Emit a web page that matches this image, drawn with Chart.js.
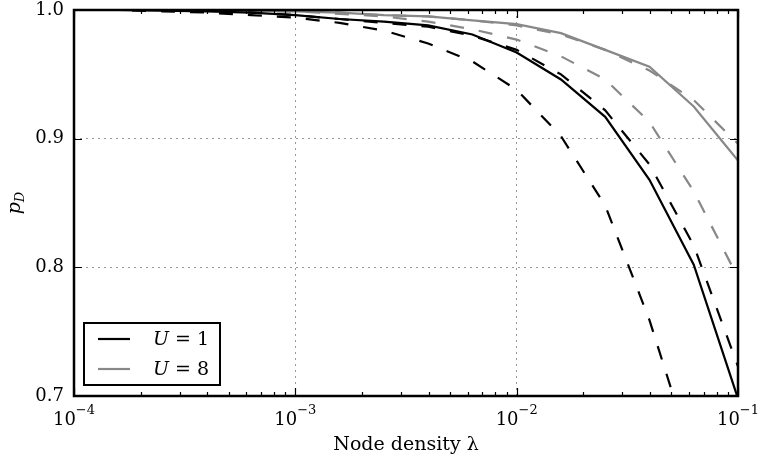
<!DOCTYPE html>
<html>
<head>
<meta charset="utf-8">
<script src="https://cdn.jsdelivr.net/npm/chart.js@4.4.0/dist/chart.umd.min.js"></script>
<style>
  html, body { margin: 0; padding: 0; background: #fff; }
  #wrap { width: 767px; height: 463px; position: relative; }
</style>
</head>
<body>
<div id="wrap"><canvas id="pdChart"></canvas></div>
<script>
// node density lambda, 0.2 decade steps
const lambda = [1e-4, 1.585e-4, 2.512e-4, 3.981e-4, 6.310e-4, 1e-3, 1.585e-3, 2.512e-3,
                3.981e-3, 6.310e-3, 1e-2, 1.585e-2, 2.512e-2, 3.981e-2, 6.310e-2, 1e-1];

// U = 1 (black)
const u1Solid   = [1.000, 1.000, 0.9995, 0.999, 0.998, 0.996, 0.993, 0.991, 0.988, 0.981, 0.967, 0.946, 0.917, 0.868, 0.802, 0.698];
const u1DashHi  = [1.000, 1.000, 0.9995, 0.999, 0.998, 0.996, 0.993, 0.990, 0.987, 0.980, 0.969, 0.950, 0.922, 0.880, 0.817, 0.723];
const u1DashLo  = [1.000, 1.000, 0.999, 0.998, 0.996, 0.994, 0.990, 0.984, 0.974, 0.960, 0.938, 0.902, 0.848, 0.759, 0.650, null];

// U = 8 (gray)
const u8Solid   = [1.000, 1.000, 1.000, 1.000, 0.9995, 0.999, 0.998, 0.996, 0.995, 0.992, 0.989, 0.982, 0.969, 0.956, 0.925, 0.883];
const u8DashHi  = [1.000, 1.000, 1.000, 1.000, 0.9995, 0.999, 0.998, 0.996, 0.995, 0.992, 0.988, 0.981, 0.969, 0.953, 0.930, 0.896];
const u8DashLo  = [1.000, 1.000, 1.000, 1.000, 0.999, 0.999, 0.997, 0.995, 0.991, 0.985, 0.977, 0.964, 0.946, 0.913, 0.859, 0.792];

const xTicks = [1e-4, 1e-3, 1e-2, 1e-1];
const yTicks = [0.7, 0.8, 0.9, 1.0];
const legendLabels = ['U = 1', 'U = 8'];

const BLACK = '#000000';
const GRAY = '#888888';
const SERIF = "'DejaVu Serif', serif";

function pts(ys) {
    return lambda.map((x, i) => ({ x: x, y: ys[i] }));
}

function mkSet(label, ys, color, dashed) {
    return {
        label: label,
        data: pts(ys),
        borderColor: color,
        backgroundColor: color,
        borderWidth: 2.2,
        borderDash: dashed ? [14, 15] : [],
        pointRadius: 0,
        tension: 0,
        fill: false
    };
}

// frame, inward ticks, x tick labels, y title and legend
const decorations = {
    id: 'decorations',
    afterDraw(chart) {
        const { ctx, chartArea: { left, right, top, bottom }, scales: { x, y } } = chart;
        ctx.save();
        ctx.strokeStyle = '#000';
        ctx.lineWidth = 1.2;
        ctx.setLineDash([]);
        ctx.beginPath();
        for (let d = -4; d <= -1; d++) {
            for (let m = 1; m <= 9; m++) {
                const v = m * Math.pow(10, d);
                if (v > 0.1 + 1e-12) break;
                const px = Math.round(x.getPixelForValue(v)) + 0.5;
                const len = m === 1 ? 8 : 4;
                ctx.moveTo(px, bottom); ctx.lineTo(px, bottom - len);
                ctx.moveTo(px, top); ctx.lineTo(px, top + len);
            }
        }
        yTicks.forEach(v => {
            const py = Math.round(y.getPixelForValue(v)) + 0.5;
            ctx.moveTo(left, py); ctx.lineTo(left + 8, py);
            ctx.moveTo(right, py); ctx.lineTo(right - 8, py);
        });
        ctx.stroke();

        ctx.lineWidth = 2.5;
        ctx.strokeRect(left, top, right - left, bottom - top);

        // x tick labels 10^n
        ctx.fillStyle = '#000';
        ctx.textBaseline = 'alphabetic';
        ctx.textAlign = 'left';
        xTicks.forEach(v => {
            const px = x.getPixelForValue(v);
            const e = '\u2212' + Math.abs(Math.round(Math.log10(v)));
            ctx.font = "18px " + SERIF;
            const bw = ctx.measureText('10').width;
            ctx.font = "13px " + SERIF;
            const ew = ctx.measureText(e).width;
            const x0 = px - (bw + ew) / 2;
            ctx.font = "18px " + SERIF;
            ctx.fillText('10', x0, bottom + 29);
            ctx.font = "13px " + SERIF;
            ctx.fillText(e, x0 + bw, bottom + 18);
        });

        // y axis title p_D
        ctx.save();
        ctx.translate(20, (top + bottom) / 2);
        ctx.rotate(-Math.PI / 2);
        ctx.font = "italic 13px " + SERIF;
        const dw = ctx.measureText('D').width;
        ctx.font = "italic 19px " + SERIF;
        const pw = ctx.measureText('p').width;
        const x0 = -(pw + dw) / 2;
        ctx.fillText('p', x0, 0);
        ctx.font = "italic 13px " + SERIF;
        ctx.fillText('D', x0 + pw, 4);
        ctx.restore();

        // legend
        const bx = left + 10, by = bottom - 73, bw = 136, bh = 62;
        ctx.fillStyle = '#fff';
        ctx.fillRect(bx, by, bw, bh);
        ctx.lineWidth = 2;
        ctx.strokeStyle = '#000';
        ctx.strokeRect(bx, by, bw, bh);
        const colors = [BLACK, GRAY];
        legendLabels.forEach((lab, i) => {
            const ly = by + 16 + i * 30;
            ctx.strokeStyle = colors[i];
            ctx.lineWidth = 2.2;
            ctx.beginPath();
            ctx.moveTo(bx + 14, ly); ctx.lineTo(bx + 46, ly);
            ctx.stroke();
            ctx.fillStyle = '#000';
            ctx.textBaseline = 'middle';
            ctx.font = "italic 19px " + SERIF;
            const tx = bx + 69;
            ctx.fillText(lab.charAt(0), tx, ly + 1);
            const uw = ctx.measureText(lab.charAt(0)).width;
            ctx.font = "19px " + SERIF;
            ctx.fillText(lab.slice(1), tx + uw, ly + 1);
        });
        ctx.restore();
    }
};

const ctx = document.getElementById('pdChart').getContext('2d');
new Chart(ctx, {
    type: 'line',
    data: {
        datasets: [
            mkSet('U = 1', u1Solid, BLACK, false),
            mkSet('U = 1 dashed a', u1DashHi, BLACK, true),
            mkSet('U = 1 dashed b', u1DashLo, BLACK, true),
            mkSet('U = 8', u8Solid, GRAY, false),
            mkSet('U = 8 dashed a', u8DashHi, GRAY, true),
            mkSet('U = 8 dashed b', u8DashLo, GRAY, true)
        ]
    },
    options: {
        responsive: true,
        maintainAspectRatio: false,
        animation: false,
        layout: { padding: { left: 0, top: 10, right: 29, bottom: 0 } },
        scales: {
            x: {
                type: 'logarithmic',
                min: 1e-4,
                max: 1e-1,
                border: { display: false, dash: [2, 4] },
                grid: {
                    drawTicks: false,
                    lineWidth: 1,
                    color: (c) => {
                        const v = c.tick && c.tick.value;
                        if (!v) return 'rgba(0,0,0,0)';
                        const l = Math.log10(v);
                        return (Math.abs(l + 3) < 1e-6 || Math.abs(l + 2) < 1e-6) ? '#999' : 'rgba(0,0,0,0)';
                    }
                },
                ticks: { display: false, autoSkip: false },
                title: {
                    display: true,
                    text: 'Node density \u03BB',
                    color: '#000',
                    font: { family: SERIF, size: 19 },
                    padding: { top: 2, bottom: 7 }
                },
                afterFit: (s) => { s.height = 67; }
            },
            y: {
                min: 0.7,
                max: 1.0,
                border: { display: false, dash: [2, 4] },
                grid: {
                    drawTicks: false,
                    lineWidth: 1,
                    color: (c) => {
                        const v = c.tick && c.tick.value;
                        return (Math.abs(v - 0.8) < 1e-6 || Math.abs(v - 0.9) < 1e-6) ? '#999' : 'rgba(0,0,0,0)';
                    }
                },
                ticks: {
                    stepSize: 0.1,
                    padding: 10,
                    color: '#000',
                    font: { family: SERIF, size: 18 },
                    callback: (v) => Number(v).toFixed(1)
                },
                afterFit: (s) => { s.width = 74; s.paddingTop = 0; s.paddingBottom = 0; }
            }
        },
        plugins: {
            legend: { display: false },
            tooltip: { enabled: false }
        }
    },
    plugins: [decorations]
});
</script>
</body>
</html>
